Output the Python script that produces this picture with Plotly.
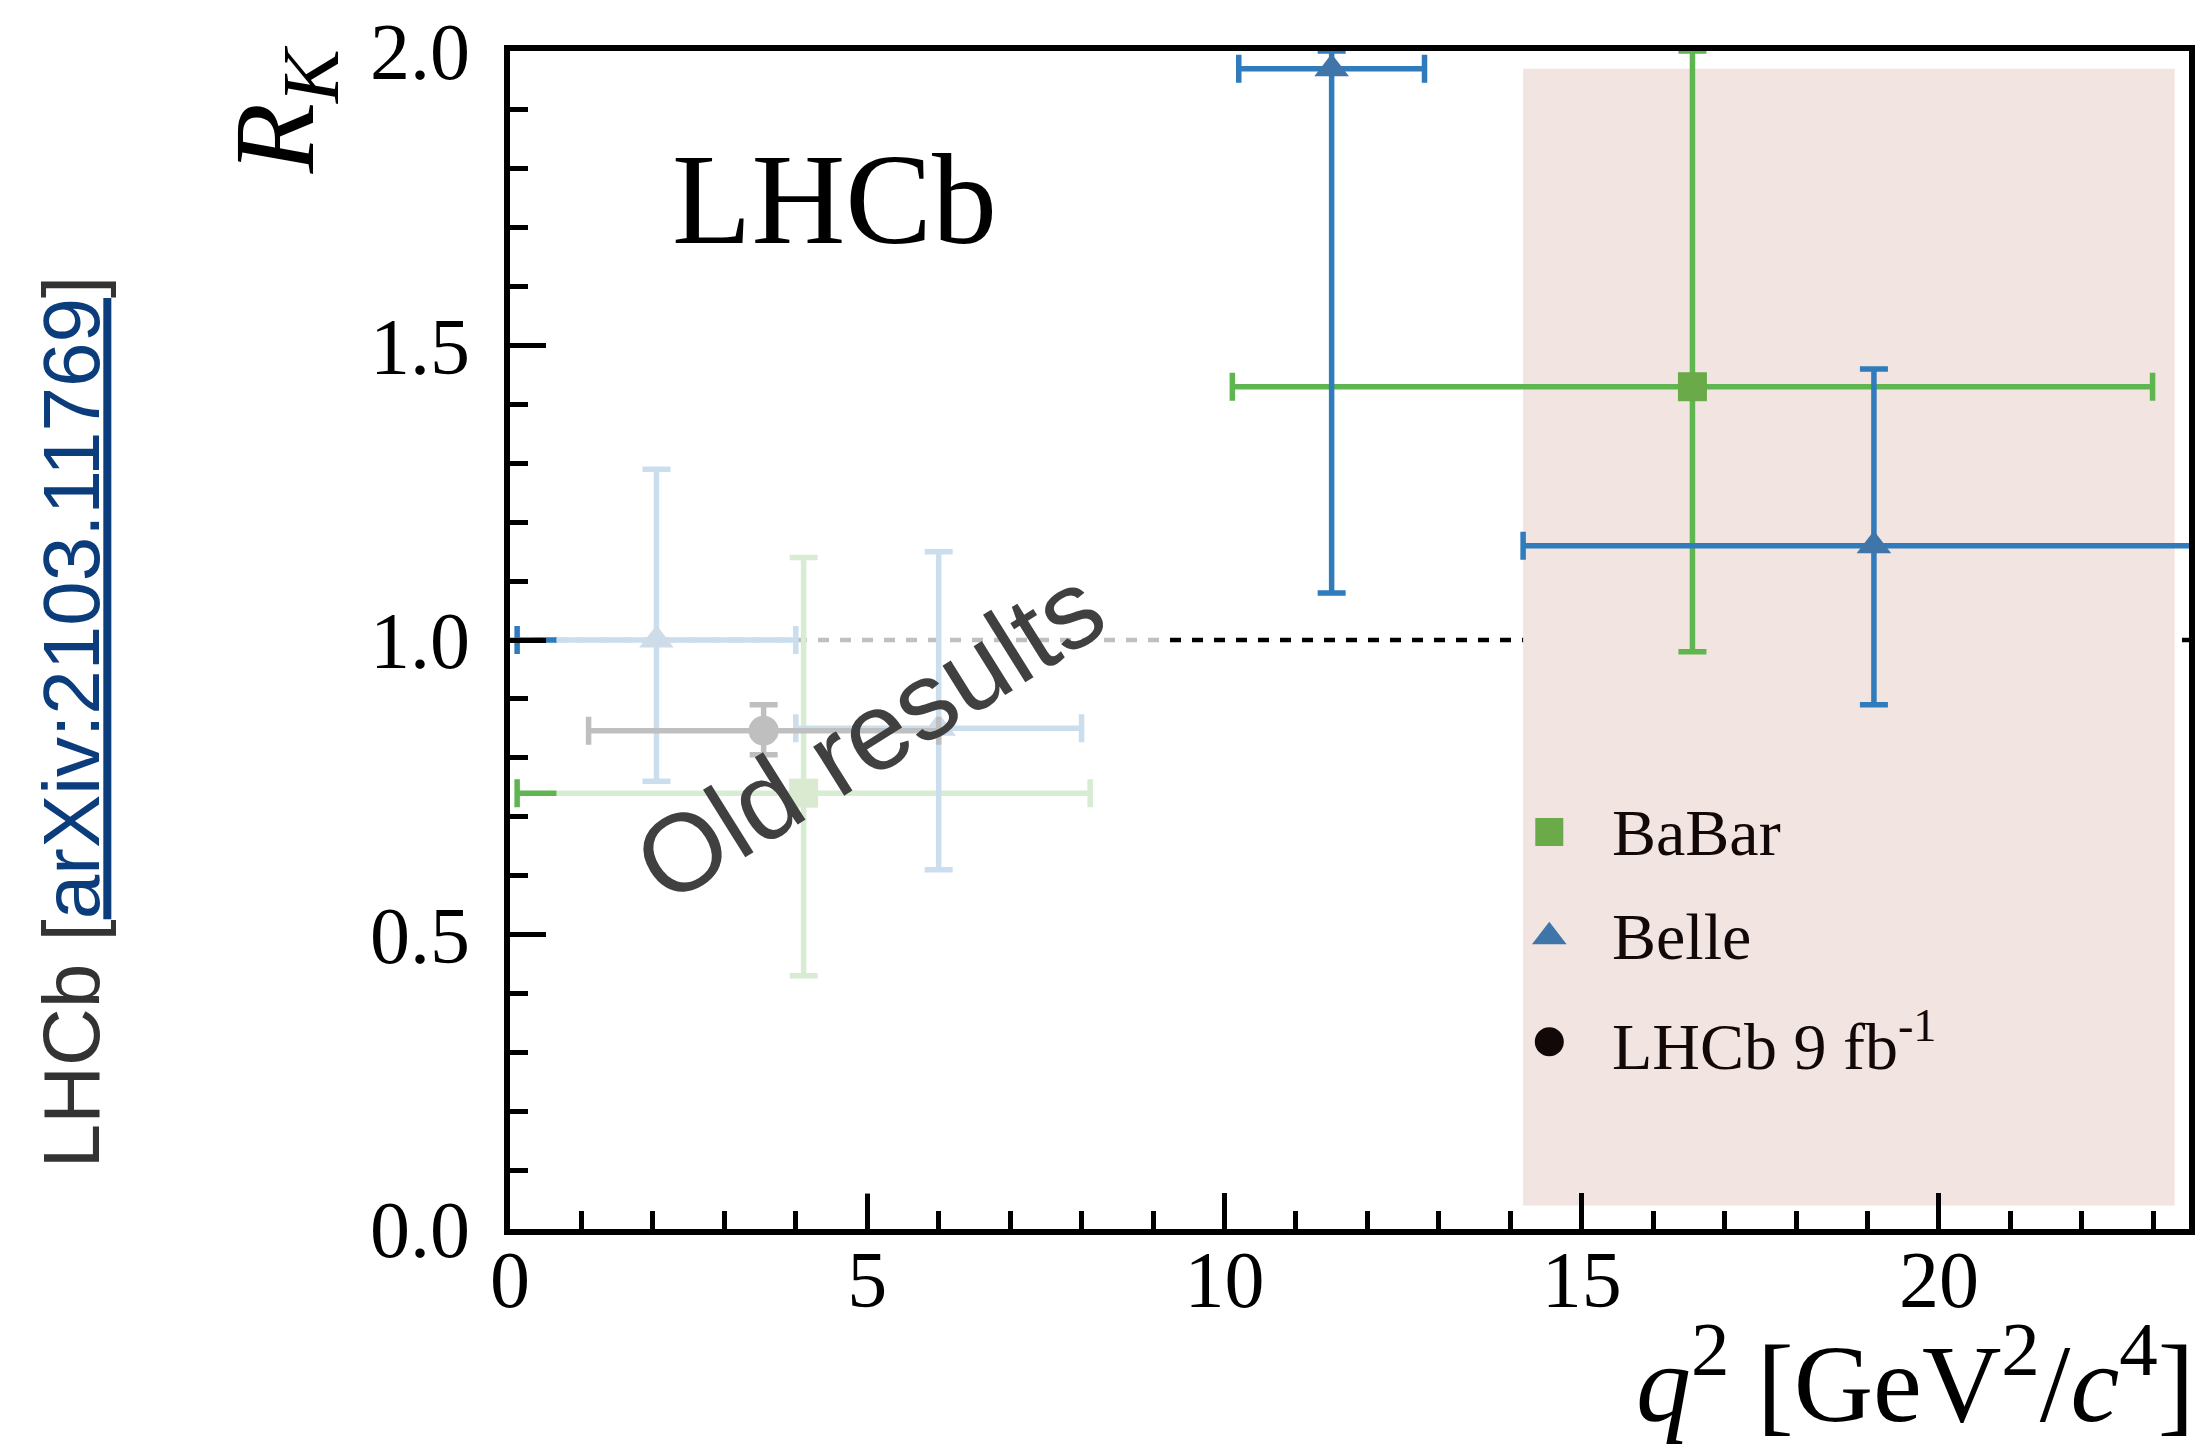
import plotly.graph_objects as go

# ---------------- data ----------------
# BaBar: q2 bin centres / half-widths, R_K and asymmetric errors
babar_q2 = [4.11, 16.55]
babar_q2_err = [4.01, 6.44]
babar_rk = [0.74, 1.43]
babar_rk_up = [0.40, 0.65]
babar_rk_dn = [0.31, 0.45]

# Belle
belle_q2 = [2.05, 6.0, 11.5, 19.09]
belle_q2_err = [1.95, 2.0, 1.3, 4.91]
belle_rk = [1.00, 0.85, 1.97, 1.16]
belle_rk_up = [0.29, 0.30, 1.03, 0.30]
belle_rk_dn = [0.24, 0.24, 0.89, 0.27]

# LHCb 9 fb^-1
lhcb_q2 = [3.55]
lhcb_q2_err = [2.45]
lhcb_rk = [0.846]
lhcb_rk_up = [0.044]
lhcb_rk_dn = [0.041]

legend_labels = ["BaBar", "Belle", "LHCb 9 fb<sup>-1</sup>"]
x_tick_vals = [0, 5, 10, 15, 20]
y_tick_vals = [0.0, 0.5, 1.0, 1.5, 2.0]

# high-q2 band and faded "old results" region (data coordinates)
high_q2_band = [14.18, 23.3]
high_q2_band_y = [0.04, 1.97]
old_region_x = [0.65, 9.2]
old_region_y = [0.06, 1.95]

X_RANGE = [0, 23.5]
Y_RANGE = [0, 2.0]

SERIF = "Liberation Serif"
SANS = "Liberation Sans"

BABAR_MARK = "#6aaa48"
BABAR_ERR = "#5fb550"
BELLE_MARK = "#3f75a8"
BELLE_ERR = "#2f7bbb"
LHCB_MARK = "#000000"


def clip_up(vals, ups):
    return [min(v + u, Y_RANGE[1]) - v for v, u in zip(vals, ups)]


fig = go.Figure()


def add_series(x, xe, y, yu, yd, mcolor, ecolor, symbol, size):
    fig.add_trace(go.Scatter(
        x=x, y=y, mode="markers",
        marker=dict(symbol=symbol, size=size, color=mcolor, line=dict(width=0)),
        error_x=dict(type="data", array=xe, symmetric=True, color=ecolor,
                     thickness=5.5, width=14),
        error_y=dict(type="data", array=clip_up(y, yu), arrayminus=yd,
                     symmetric=False, color=ecolor, thickness=5.5, width=14),
        showlegend=False, hoverinfo="skip",
    ))


add_series(babar_q2, babar_q2_err, babar_rk, babar_rk_up, babar_rk_dn,
           BABAR_MARK, BABAR_ERR, "square", 29)
add_series(belle_q2, belle_q2_err, belle_rk, belle_rk_up, belle_rk_dn,
           BELLE_MARK, BELLE_ERR, "triangle-up", 30)
add_series(lhcb_q2, lhcb_q2_err, lhcb_rk, lhcb_rk_up, lhcb_rk_dn,
           LHCB_MARK, LHCB_MARK, "circle", 30)

# manual legend markers on an invisible overlay axis (paper-like 0..1)
leg_x = 0.619
leg_y = [0.337, 0.248, 0.159]
leg_symbols = ["square", "triangle-up", "circle"]
leg_sizes = [28, 30, 29]
leg_colors = [BABAR_MARK, BELLE_MARK, "#120808"]
for yy, sym, sz, col in zip(leg_y, leg_symbols, leg_sizes, leg_colors):
    fig.add_trace(go.Scatter(
        x=[leg_x], y=[yy], mode="markers", xaxis="x2", yaxis="y2",
        marker=dict(symbol=sym, size=sz, color=col, opacity=1,
                    line=dict(width=0)),
        showlegend=False, hoverinfo="skip", cliponaxis=False,
    ))

shapes = [
    dict(type="rect", xref="x", yref="y", layer="below",
         x0=high_q2_band[0], x1=high_q2_band[1],
         y0=high_q2_band_y[0], y1=high_q2_band_y[1],
         fillcolor="rgb(242,228,225)", line=dict(width=0)),
    dict(type="line", xref="paper", yref="y", layer="below",
         x0=0, x1=1, y0=1.0, y1=1.0,
         line=dict(color="black", width=4.5, dash="11px,11px")),
    dict(type="rect", xref="x", yref="y", layer="above",
         x0=old_region_x[0], x1=old_region_x[1],
         y0=old_region_y[0], y1=old_region_y[1],
         fillcolor="rgba(255,255,255,0.75)", line=dict(width=0)),
]

annotations = [
    dict(text="LHCb", xref="paper", yref="paper", x=0.193, y=0.874,
         xanchor="center", yanchor="middle",
         showarrow=False, font=dict(family=SERIF, size=130, color="black")),
    dict(text="Old results", xref="paper", yref="paper", x=0.214, y=0.420,
         xanchor="center", yanchor="middle",
         showarrow=False, textangle=-32,
         font=dict(family=SANS, size=110, color="#404040")),
    dict(text="<i>R</i><sub><i>K</i></sub>", xref="paper", yref="paper",
         x=-0.135, y=0.950, xanchor="center", yanchor="middle",
         showarrow=False, textangle=-90,
         font=dict(family=SERIF, size=115, color="black")),
    dict(text=("<span style='color:#333333'>LHCb [</span>"
               "<span style='color:#0b3d7d'><u>arXiv:2103.11769</u></span>"
               "<span style='color:#333333'>]</span>"),
         xref="paper", yref="paper", x=-0.261, y=0.430,
         xanchor="center", yanchor="middle", showarrow=False,
         textangle=-90, font=dict(family=SANS, size=80, color="#333333")),
    dict(text="<i>q</i><sup>2</sup> [GeV<sup>2</sup>/<i>c</i><sup>4</sup>]",
         xref="paper", yref="paper", x=1.004, y=-0.185, xanchor="right",
         yanchor="bottom", showarrow=False,
         font=dict(family=SERIF, size=110, color="black")),
]
for lbl, yy in zip(legend_labels, leg_y):
    annotations.append(dict(text=lbl, xref="paper", yref="paper", x=0.655,
                            y=yy, xanchor="left", yanchor="middle",
                            showarrow=False,
                            font=dict(family=SERIF, size=66, color="#120808")))

fig.update_layout(
    width=2203, height=1446,
    margin=dict(l=510, r=8, t=46, b=217),
    plot_bgcolor="white", paper_bgcolor="white",
    showlegend=False,
    shapes=shapes, annotations=annotations,
    xaxis=dict(range=X_RANGE, showline=True, linecolor="black", linewidth=6,
               mirror=True, ticks="inside", ticklen=36, tickwidth=5,
               tickcolor="black", tickvals=x_tick_vals,
               tickfont=dict(family=SERIF, size=80, color="black"),
               showgrid=False, zeroline=False, ticklabelstandoff=-24,
               minor=dict(ticks="inside", ticklen=18, tickwidth=5, dtick=1,
                          tick0=0, tickcolor="black", showgrid=False)),
    yaxis=dict(range=Y_RANGE, showline=True, linecolor="black", linewidth=6,
               mirror=True, ticks="inside", ticklen=36, tickwidth=5,
               tickcolor="black", tickvals=y_tick_vals, tickformat=".1f",
               tickfont=dict(family=SERIF, size=80, color="black"),
               showgrid=False, zeroline=False, ticklabelstandoff=18,
               minor=dict(ticks="inside", ticklen=18, tickwidth=5, dtick=0.1,
                          tick0=0, tickcolor="black", showgrid=False)),
    xaxis2=dict(overlaying="x", range=[0, 1], visible=False),
    yaxis2=dict(overlaying="y", range=[0, 1], visible=False),
)

fig.write_html("out.html")
